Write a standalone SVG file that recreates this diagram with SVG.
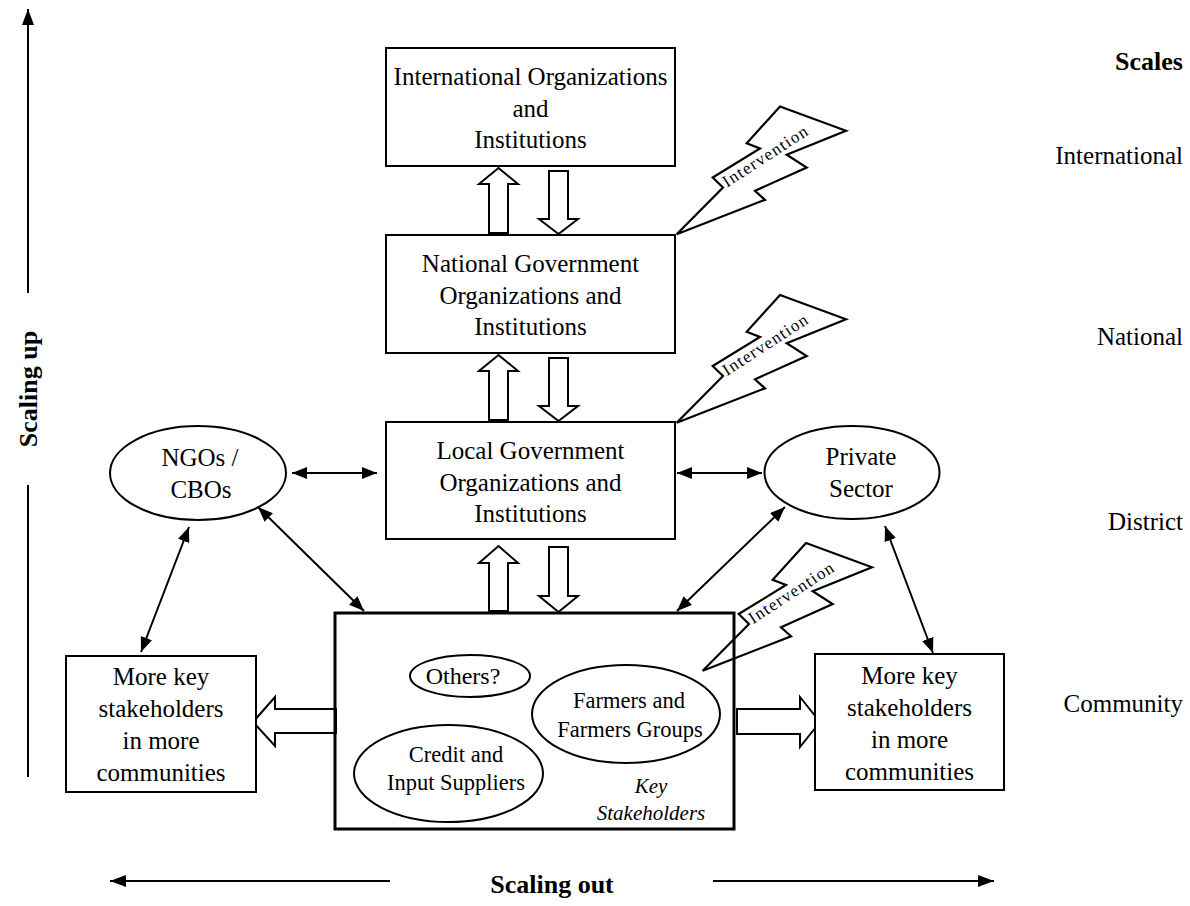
<svg xmlns="http://www.w3.org/2000/svg" width="1190" height="906" viewBox="0 0 1190 906">
<style>
text{font-family:"Liberation Serif","Times New Roman",serif;fill:#000;}
.t24{font-size:25px;text-anchor:middle;}
.t22{font-size:22.5px;text-anchor:middle;}
.scale{font-size:25px;text-anchor:end;}
.bold{font-size:26px;font-weight:bold;}
.int{font-size:17px;text-anchor:middle;}
.box{fill:#fff;stroke:#000;stroke-width:2;}
.kbox{fill:none;stroke:#000;stroke-width:3;}
.ell{fill:#fff;stroke:#000;stroke-width:2;}
.hollow{fill:#fff;stroke:#000;stroke-width:2;stroke-linejoin:miter;}
.bolt{fill:none;stroke:#000;stroke-width:2.2;stroke-linejoin:miter;}
.con{fill:none;stroke:#000;stroke-width:2;marker-start:url(#ah);marker-end:url(#ah);}
.axis{fill:none;stroke:#000;stroke-width:2;}
</style>
<defs>
<marker id="ah" markerUnits="userSpaceOnUse" markerWidth="15" markerHeight="12" refX="15" refY="6" orient="auto-start-reverse">
<path d="M0,0 L15,6 L0,12 z" fill="#000"/>
</marker>
<marker id="ax" markerUnits="userSpaceOnUse" markerWidth="16" markerHeight="12" refX="16" refY="6" orient="auto">
<path d="M0,0 L16,6 L0,12 z" fill="#000"/>
</marker>
<polygon id="boltShape" points="676.7,422.7 723,376 712.7,366 760,337 746.7,331.7 780,295 846,319.3 786.7,343.3 806.7,356 755,379.3 765,388.3"/>
</defs>

<!-- axes -->
<g id="axes">
<line class="axis" x1="28" y1="293" x2="28" y2="9" marker-end="url(#ax)"/>
<line class="axis" x1="28" y1="485" x2="28" y2="777"/>
<text class="bold" transform="translate(37,389) rotate(-90)" text-anchor="middle">Scaling up</text>
<line class="axis" x1="390" y1="881" x2="110" y2="881" marker-end="url(#ax)"/>
<line class="axis" x1="713" y1="881" x2="994" y2="881" marker-end="url(#ax)"/>
<text class="bold" x="552" y="893" text-anchor="middle">Scaling out</text>
</g>

<!-- scales -->
<g id="scales">
<text class="bold" x="1183" y="70" text-anchor="end">Scales</text>
<text class="scale" x="1183" y="164">International</text>
<text class="scale" x="1183" y="345">National</text>
<text class="scale" x="1183" y="530">District</text>
<text class="scale" x="1183" y="712">Community</text>
</g>

<!-- connectors -->
<g id="connectors">
<line class="con" x1="292" y1="473" x2="377" y2="473"/>
<line class="con" x1="677" y1="473" x2="762" y2="473"/>
<line class="con" x1="258" y1="507" x2="364" y2="611"/>
<line class="con" x1="189" y1="527" x2="141" y2="652"/>
<line class="con" x1="785" y1="507" x2="677" y2="611"/>
<line class="con" x1="885" y1="526" x2="933" y2="653"/>
<!-- hollow vertical arrows -->
<path class="hollow" d="M498.5,168 L518,184 L508,184 L508,233 L489,233 L489,184 L479,184 Z"/>
<path class="hollow" d="M549,171 L568,171 L568,219 L578,219 L558.5,234 L539,219 L549,219 Z"/>
<path class="hollow" d="M498.5,355 L518,371 L508,371 L508,420 L489,420 L489,371 L479,371 Z"/>
<path class="hollow" d="M549,358 L568,358 L568,406 L578,406 L558.5,421 L539,406 L549,406 Z"/>
<path class="hollow" d="M498.5,546 L518,563 L508,563 L508,611 L489,611 L489,563 L479,563 Z"/>
<path class="hollow" d="M549,547 L568,547 L568,596 L578,596 L558.5,612 L539,596 L549,596 Z"/>
<!-- hollow horizontal arrows -->
<path class="hollow" d="M253,722 L275,697 L275,709 L336,709 L336,733 L275,733 L275,746 Z"/>
<path class="hollow" d="M820,722 L800,697 L800,709 L737,709 L737,734 L800,734 L800,747 Z"/>
</g>

<!-- nodes -->
<g id="international">
<rect class="box" x="386" y="48" width="289" height="118"/>
<text class="t24" x="530.5" y="85">International Organizations</text>
<text class="t24" x="530.5" y="117">and</text>
<text class="t24" x="530.5" y="148">Institutions</text>
</g>
<g id="national">
<rect class="box" x="386" y="235" width="289" height="118"/>
<text class="t24" x="530.5" y="272">National Government</text>
<text class="t24" x="530.5" y="304">Organizations and</text>
<text class="t24" x="530.5" y="335">Institutions</text>
</g>
<g id="local">
<rect class="box" x="386" y="422" width="289" height="117"/>
<text class="t24" x="530.5" y="459">Local Government</text>
<text class="t24" x="530.5" y="491">Organizations and</text>
<text class="t24" x="530.5" y="522">Institutions</text>
</g>
<g id="ngos">
<ellipse class="ell" cx="198" cy="473" rx="88" ry="47"/>
<text class="t24" x="200" y="466">NGOs /</text>
<text class="t24" x="201" y="498">CBOs</text>
</g>
<g id="private">
<ellipse class="ell" cx="852" cy="472.5" rx="87.5" ry="46.5"/>
<text class="t24" x="861" y="465">Private</text>
<text class="t24" x="861" y="497">Sector</text>
</g>
<g id="key-stakeholders">
<rect class="kbox" x="335" y="613" width="399" height="216"/>
<text x="651" y="793" style="font-size:21px;font-style:italic;text-anchor:middle">Key</text>
<text x="651" y="820" style="font-size:21px;font-style:italic;text-anchor:middle">Stakeholders</text>
</g>
<g id="others">
<ellipse class="ell" cx="470" cy="676" rx="60" ry="21"/>
<text class="t24" x="463" y="684" style="font-size:24px">Others?</text>
</g>
<g id="farmers">
<ellipse class="ell" cx="626" cy="714" rx="94" ry="49"/>
<text class="t22" x="629" y="708">Farmers and</text>
<text class="t22" x="630" y="737">Farmers Groups</text>
</g>
<g id="credit">
<ellipse class="ell" cx="448.5" cy="773.5" rx="94.5" ry="48.5"/>
<text class="t22" x="456" y="762">Credit and</text>
<text class="t22" x="456" y="790">Input Suppliers</text>
</g>
<g id="more-left">
<rect class="box" x="66" y="656" width="190" height="136"/>
<text class="t24" x="161" y="685">More key</text>
<text class="t24" x="161" y="717">stakeholders</text>
<text class="t24" x="161" y="749">in more</text>
<text class="t24" x="161" y="781">communities</text>
</g>
<g id="more-right">
<rect class="box" x="815" y="654" width="189" height="136"/>
<text class="t24" x="909.5" y="684">More key</text>
<text class="t24" x="909.5" y="716">stakeholders</text>
<text class="t24" x="909.5" y="748">in more</text>
<text class="t24" x="909.5" y="780">communities</text>
</g>

<!-- interventions -->
<g id="intervention-1">
<use href="#boltShape" class="bolt" transform="translate(0,-188.5)"/>
<text class="int" transform="translate(768,161) rotate(-33)" textLength="98" lengthAdjust="spacing">Intervention</text>
</g>
<g id="intervention-2">
<use href="#boltShape" class="bolt"/>
<text class="int" transform="translate(768,349.5) rotate(-33)" textLength="98" lengthAdjust="spacing">Intervention</text>
</g>
<g id="intervention-3">
<use href="#boltShape" class="bolt" transform="translate(26,248)"/>
<text class="int" transform="translate(794,597.5) rotate(-33)" textLength="98" lengthAdjust="spacing">Intervention</text>
</g>
</svg>
